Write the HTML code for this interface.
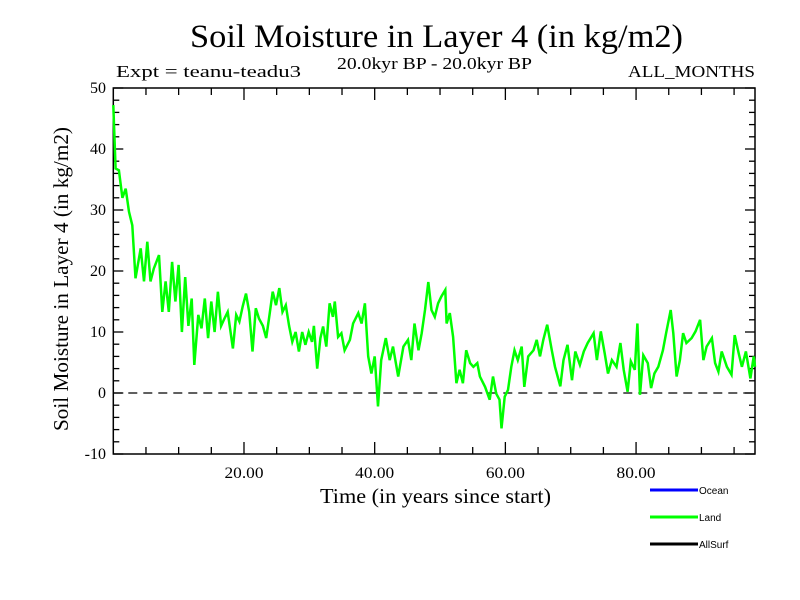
<!DOCTYPE html>
<html><head><meta charset="utf-8"><style>
html,body{margin:0;padding:0;background:#fff;}
svg{display:block;}
text{font-family:"Liberation Serif",serif;fill:#000;}
.leg{font-family:"Liberation Sans",sans-serif;font-size:10px;}
</style></head><body>
<svg id="chart" width="800" height="600" viewBox="0 0 800 600" xmlns="http://www.w3.org/2000/svg">
<text x="190" y="47" font-size="33" textLength="493" lengthAdjust="spacingAndGlyphs">Soil Moisture in Layer 4 (in kg/m2)</text>
<text x="116" y="77" font-size="17" textLength="185" lengthAdjust="spacingAndGlyphs">Expt = teanu-teadu3</text>
<text x="337" y="69" font-size="17" textLength="195" lengthAdjust="spacingAndGlyphs">20.0kyr BP - 20.0kyr BP</text>
<text x="628" y="77" font-size="17" textLength="127" lengthAdjust="spacingAndGlyphs">ALL_MONTHS</text>
<text transform="translate(68,431) rotate(-90)" font-size="21" textLength="304" lengthAdjust="spacingAndGlyphs">Soil Moisture in Layer 4 (in kg/m2)</text>
<text x="320" y="503" font-size="21" textLength="231" lengthAdjust="spacingAndGlyphs">Time (in years since start)</text>
<g id="axes"></g>
<g id="series"></g>
<g>
<line x1="650" y1="490" x2="698" y2="490" stroke="#0000ff" stroke-width="3"/>
<text class="leg" x="699" y="494">Ocean</text>
<line x1="650" y1="517" x2="698" y2="517" stroke="#00ff00" stroke-width="3"/>
<text class="leg" x="699" y="521">Land</text>
<line x1="650" y1="544" x2="698" y2="544" stroke="#000" stroke-width="3"/>
<text class="leg" x="699" y="548">AllSurf</text>
</g>
</svg>
<script>
const years=[0,0.35,0.86,1.4,1.9,2.4,2.9,3.4,4.2,4.7,5.2,5.7,6.2,7.0,7.5,8.0,8.5,9.0,9.5,10.0,10.5,11.0,11.5,12.0,12.4,13.0,13.5,14.0,14.5,15.0,15.5,16.0,16.5,17.0,17.5,18.3,18.8,19.3,19.8,20.3,20.8,21.3,21.8,22.3,22.9,23.4,23.9,24.4,24.9,25.4,25.9,26.4,26.9,27.4,27.9,28.4,28.9,29.4,29.9,30.4,30.7,31.2,31.7,32.1,32.6,33.1,33.6,33.9,34.4,34.9,35.4,36.2,36.7,37.5,38.0,38.5,39.0,39.5,40.0,40.5,41.0,41.7,42.3,42.8,43.6,44.4,45.1,45.6,46.1,46.7,47.2,47.7,48.2,48.7,49.2,49.7,50.2,50.8,51.0,51.5,52.0,52.5,53.0,53.5,54.0,54.6,55.1,55.7,56.1,56.9,57.6,58.1,58.6,59.1,59.4,59.9,60.4,60.9,61.4,61.9,62.5,62.9,63.5,64.3,64.8,65.3,65.8,66.4,67.1,67.6,68.4,68.9,69.5,70.2,70.7,71.4,72.0,72.6,73.5,74.0,74.6,75.2,75.7,76.3,77.0,77.6,78.1,78.7,79.2,79.8,80.2,80.6,81.1,81.8,82.3,82.8,83.4,84.1,84.6,85.3,85.7,86.2,86.7,87.2,87.7,88.5,89.1,89.8,90.3,90.8,91.6,92.1,92.6,93.1,93.9,94.6,95.1,95.7,96.2,96.8,97.5,98.0,98.2];
const landValues=[47.2,36.8,36.5,32,33.5,29.7,27.5,18.8,23.7,18.3,24.8,18.3,20.4,22.6,13.3,18.3,13.3,21.5,15,21,10,19,11,15.5,4.6,12.8,10.6,15.5,9,15,10,16.6,11,12.2,13.3,7.3,12.8,11.7,14.2,16.3,13.3,6.8,13.9,12.2,11,9,12.8,16.6,14.4,17.2,13.3,14.4,11,8.4,10,6.8,10,7.9,10,8.4,11,4,9,10.9,7.6,14.7,12.5,15,9.2,9.8,7,8.7,11.4,13.1,11.4,14.7,6,3.2,6,-2.2,5.4,9,5.4,7.6,2.7,7.6,8.7,5.4,11.4,7,9.8,13.6,18.2,13.6,12.5,14.7,15.8,16.9,11.4,13.1,9.2,1.6,3.8,1.6,7,4.9,4.3,4.9,2.7,1,-1.1,2.7,-0.1,-1.1,-5.8,-0.6,0.5,4.3,7,5.4,7.6,1,6,7,8.7,6,8.7,11.2,7,4.3,1.1,5.4,7.9,2.1,6.8,4.6,6.8,8.2,9.8,5.4,10.1,6.5,3.2,5.4,4.3,8.2,3.8,0.2,5.2,3.8,11.4,-0.3,6.2,4.9,0.8,3.2,4.3,7,9.8,13.6,9.8,2.7,5.4,9.8,8.2,9,10.1,12,5.4,7.6,9,4.9,3.5,6.8,4.3,3,9.5,6.5,4.3,6.8,2.4,6,4.3];
const yTickValues=[-10,0,10,20,30,40,50];
const xTickValues=[20,40,60,80];
const xTickLabels=["20.00","40.00","60.00","80.00"];

const X0=113.3,X1=755,Y0=454,Y1=88,XMIN=0,XMAX=98.2,YMIN=-10,YMAX=50;
const sx=v=>X0+(v-XMIN)/(XMAX-XMIN)*(X1-X0);
const sy=v=>Y0-(v-YMIN)/(YMAX-YMIN)*(Y0-Y1);
const NS="http://www.w3.org/2000/svg";
const axes=document.getElementById('axes');
function mk(tag,attrs,parent){const e=document.createElementNS(NS,tag);for(const k in attrs)e.setAttribute(k,attrs[k]);parent.appendChild(e);return e;}
const frame=mk('rect',{x:X0,y:Y1,width:X1-X0,height:Y0-Y1,fill:'none',stroke:'#000','stroke-width':1.5},axes);


for(let v=YMIN;v<=YMAX;v+=2){
  const major=(v%10===0);const len=major?10:6;const y=sy(v);
  const t1=mk('line',{x1:X0,y1:y,x2:X0+len,y2:y,stroke:'#000','stroke-width':1.3},axes);
  
  
  const t2=mk('line',{x1:X1,y1:y,x2:X1-len,y2:y,stroke:'#000','stroke-width':1.3},axes);
  
  
}
yTickValues.forEach(v=>{
  const t=mk('text',{x:106,y:sy(v)+5,'font-size':16,'text-anchor':'end'},axes);
  t.textContent=String(v);
  
  
});
for(let v=5;v<XMAX;v+=5){
  const major=(v%20===0);const len=major?12:7;const x=sx(v);
  const t1=mk('line',{x1:x,y1:Y0,x2:x,y2:Y0-len,stroke:'#000','stroke-width':1.3},axes);
  
  
  const t2=mk('line',{x1:x,y1:Y1,x2:x,y2:Y1+len,stroke:'#000','stroke-width':1.3},axes);
  
  
}
xTickValues.forEach((v,i)=>{
  const t=mk('text',{x:sx(v)-19.5,y:478,'font-size':16,textLength:39,lengthAdjust:'spacingAndGlyphs'},axes);
  t.textContent=xTickLabels[i];
  
  
});
const zl=mk('line',{x1:X0,y1:sy(0),x2:X1,y2:sy(0),stroke:'#000','stroke-width':1.3,'stroke-dasharray':'9,6'},axes);


const series=document.getElementById('series');
const pts=years.map((yr,i)=>sx(yr).toFixed(1)+','+sy(landValues[i]).toFixed(1)).join(' ');
const pl=mk('polyline',{points:pts,fill:'none',stroke:'#00ff00','stroke-width':2.5,'stroke-linejoin':'miter'},series);


</script>
</body></html>
